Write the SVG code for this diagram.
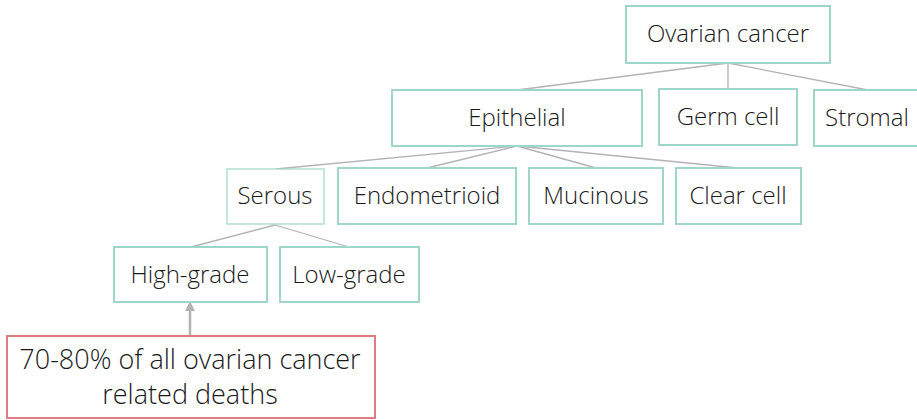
<svg xmlns="http://www.w3.org/2000/svg" width="917" height="420" viewBox="0 0 917 420">
<style>
.box{fill:#fff;stroke:#9fd6c9;stroke-width:2}
.thin{stroke-width:1.2}
.red{fill:#fff;stroke:#df7b83;stroke-width:2}
.t{font-family:"Open Sans","Noto Sans",sans-serif;font-size:24px;font-weight:300;fill:#1a1a1a;text-anchor:middle}
.big{font-size:27px}
.c{stroke:#b3b3b3;stroke-width:1.3;fill:none}
</style>
<defs>
<marker id="ah" markerWidth="10" markerHeight="10" refX="5" refY="5" orient="auto" markerUnits="userSpaceOnUse">
<path d="M0,0 L10,5 L0,10 z" fill="#b3b3b3"/>
</marker>
</defs>
<g id="connectors">
<line class="c" x1="728" y1="63" x2="517" y2="90"/>
<line class="c" x1="728" y1="63" x2="728" y2="89"/>
<line class="c" x1="728" y1="63" x2="868" y2="90"/>
<line class="c" x1="517" y1="146" x2="276" y2="169"/>
<line class="c" x1="517" y1="146" x2="427" y2="168"/>
<line class="c" x1="517" y1="146" x2="596" y2="168"/>
<line class="c" x1="517" y1="146" x2="738" y2="168"/>
<line class="c" x1="275" y1="225" x2="191" y2="247"/>
<line class="c" x1="275" y1="225" x2="349" y2="247"/>
<line x1="190" y1="335" x2="190" y2="306" stroke="#b3b3b3" stroke-width="2.5" marker-end="url(#ah)"/>
</g>
<g id="ovarian"><rect class="box" x="626" y="6" width="204" height="57"/><text class="t" x="728" y="42">Ovarian cancer</text></g>
<g id="epithelial"><rect class="box" x="392" y="90" width="250" height="56"/><text class="t" x="517" y="126">Epithelial</text></g>
<g id="germ"><rect class="box" x="659" y="89" width="138" height="56"/><text class="t" x="728" y="125">Germ cell</text></g>
<g id="stromal"><rect class="box" x="814" y="90" width="104" height="56"/><text class="t" x="867" y="126">Stromal</text></g>
<g id="serous"><rect class="box thin" x="227" y="169" width="97" height="55"/><text class="t" x="275" y="204">Serous</text></g>
<g id="endometrioid"><rect class="box" x="338" y="168" width="178" height="56"/><text class="t" x="427" y="204">Endometrioid</text></g>
<g id="mucinous"><rect class="box" x="529" y="168" width="134" height="56"/><text class="t" x="596" y="204">Mucinous</text></g>
<g id="clearcell"><rect class="box" x="676" y="168" width="125" height="56"/><text class="t" x="738" y="204">Clear cell</text></g>
<g id="highgrade"><rect class="box" x="114" y="247" width="153" height="55"/><text class="t" x="190" y="283">High-grade</text></g>
<g id="lowgrade"><rect class="box" x="280" y="247" width="139" height="55"/><text class="t" x="349" y="283">Low-grade</text></g>
<g id="deaths"><rect class="red" x="7" y="336" width="368" height="82"/><text class="t big" x="190" y="369">70-80% of all ovarian cancer</text><text class="t big" x="190" y="404">related deaths</text></g>
</svg>
